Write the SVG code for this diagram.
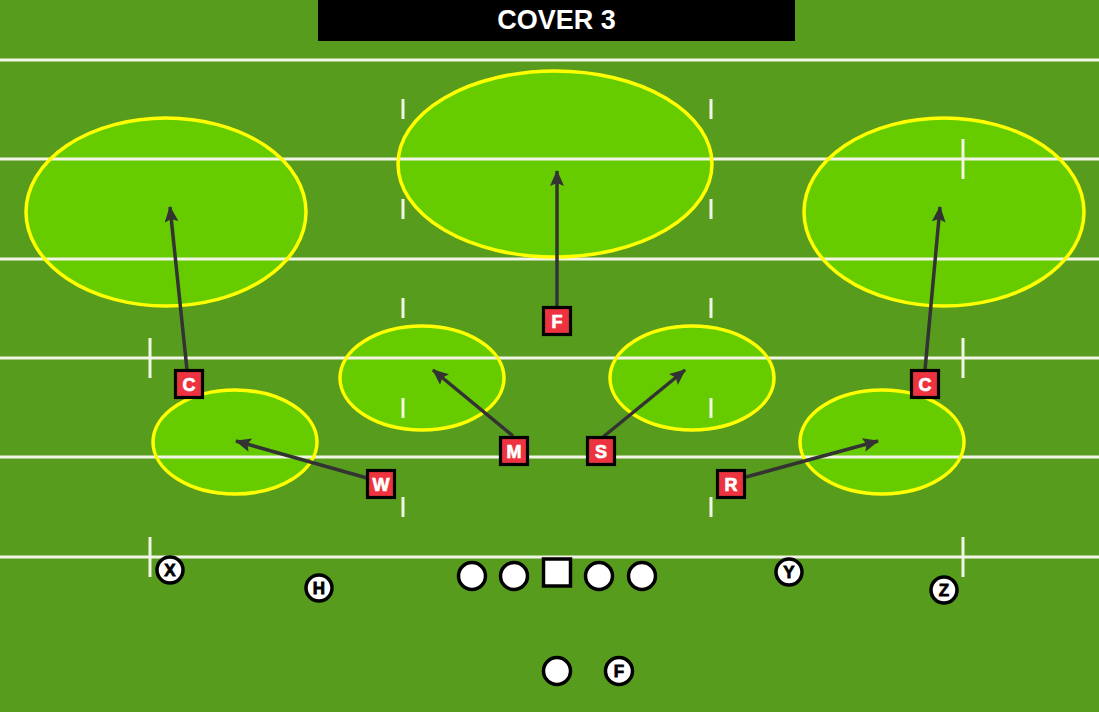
<svg xmlns="http://www.w3.org/2000/svg" width="1099" height="712" viewBox="0 0 1099 712">
<defs>
<style>
.yl{stroke:#F2F4E6;stroke-width:3;fill:none}
.hm{stroke:#F2F4E6;stroke-width:3;fill:none}
.zf{fill:#66CC00;stroke:none}
.zs{fill:none;stroke:#FFFF00;stroke-width:3.5}
.con{stroke:#333333;stroke-width:3.5;fill:none;marker-end:url(#ah)}
.def rect{fill:#EE3340;stroke:#000;stroke-width:3.2}
.def text{fill:#fff;stroke:#fff;stroke-width:0.7;font-family:"Liberation Sans",Arial,sans-serif;font-weight:bold;font-size:18px;text-anchor:middle}
.off circle,.off rect{fill:#fff;stroke:#000;stroke-width:3.5}
.off text{fill:#000;stroke:#000;stroke-width:0.8;font-family:"Liberation Sans",Arial,sans-serif;font-weight:bold;font-size:17px;text-anchor:middle}
</style>
<marker id="ah" markerUnits="userSpaceOnUse" markerWidth="16" markerHeight="14" viewBox="0 0 16 14" refX="15" refY="7" orient="auto">
<path d="M0,0 L16,7 L0,14 L3,7 z" fill="#333333"/>
</marker>
</defs>
<rect x="0" y="0" width="1099" height="712" fill="#589C1E"/>
<g id="zones-fill">
<ellipse class="zf" cx="166" cy="212" rx="140" ry="94"/>
<ellipse class="zf" cx="555" cy="164" rx="157" ry="93"/>
<ellipse class="zf" cx="944" cy="212" rx="140" ry="94"/>
<ellipse class="zf" cx="422" cy="378" rx="82" ry="52"/>
<ellipse class="zf" cx="692" cy="378" rx="82" ry="52"/>
<ellipse class="zf" cx="235" cy="442" rx="82" ry="52"/>
<ellipse class="zf" cx="882" cy="442" rx="82" ry="52"/>
</g>
<g id="field">
<line class="yl" x1="0" y1="60" x2="1099" y2="60"/>
<line class="yl" x1="0" y1="159" x2="1099" y2="159"/>
<line class="yl" x1="0" y1="259" x2="1099" y2="259"/>
<line class="yl" x1="0" y1="358" x2="1099" y2="358"/>
<line class="yl" x1="0" y1="457" x2="1099" y2="457"/>
<line class="yl" x1="0" y1="557" x2="1099" y2="557"/>
<line class="hm" x1="150" y1="338" x2="150" y2="378"/>
<line class="hm" x1="150" y1="537" x2="150" y2="577"/>
<line class="hm" x1="963" y1="139" x2="963" y2="179"/>
<line class="hm" x1="963" y1="338" x2="963" y2="378"/>
<line class="hm" x1="963" y1="537" x2="963" y2="577"/>
<line class="hm" x1="403" y1="99" x2="403" y2="119"/>
<line class="hm" x1="403" y1="199" x2="403" y2="219"/>
<line class="hm" x1="403" y1="298" x2="403" y2="318"/>
<line class="hm" x1="403" y1="398" x2="403" y2="418"/>
<line class="hm" x1="403" y1="497" x2="403" y2="517"/>
<line class="hm" x1="711" y1="99" x2="711" y2="119"/>
<line class="hm" x1="711" y1="199" x2="711" y2="219"/>
<line class="hm" x1="711" y1="298" x2="711" y2="318"/>
<line class="hm" x1="711" y1="398" x2="711" y2="418"/>
<line class="hm" x1="711" y1="497" x2="711" y2="517"/>
</g>
<g id="zones">
<ellipse class="zs" cx="166" cy="212" rx="140" ry="94"/>
<ellipse class="zs" cx="555" cy="164" rx="157" ry="93"/>
<ellipse class="zs" cx="944" cy="212" rx="140" ry="94"/>
<ellipse class="zs" cx="422" cy="378" rx="82" ry="52"/>
<ellipse class="zs" cx="692" cy="378" rx="82" ry="52"/>
<ellipse class="zs" cx="235" cy="442" rx="82" ry="52"/>
<ellipse class="zs" cx="882" cy="442" rx="82" ry="52"/>
</g>
<g id="title">
<rect x="318" y="0" width="477" height="41" fill="#000"/>
<text x="556.5" y="28.5" fill="#fff" font-family="'Liberation Sans',Arial,sans-serif" font-weight="bold" font-size="27" text-anchor="middle">COVER 3</text>
</g>
<g id="connectors">
<line class="con" x1="557" y1="307" x2="557" y2="171"/>
<line class="con" x1="187" y1="370" x2="170" y2="207"/>
<line class="con" x1="925" y1="370" x2="940" y2="207"/>
<line class="con" x1="367" y1="478" x2="236" y2="441"/>
<line class="con" x1="513" y1="436" x2="433" y2="370"/>
<line class="con" x1="603" y1="437" x2="685" y2="370"/>
<line class="con" x1="746" y1="477" x2="878" y2="441"/>
</g>
<g id="def-F" class="def"><rect x="543.5" y="307.5" width="27" height="27"/><text x="557" y="327.5">F</text></g>
<g id="def-CL" class="def"><rect x="175.5" y="370.5" width="27" height="27"/><text x="189" y="390.5">C</text></g>
<g id="def-CR" class="def"><rect x="911.5" y="370.5" width="27" height="27"/><text x="925" y="390.5">C</text></g>
<g id="def-W" class="def"><rect x="367.5" y="470.5" width="27" height="27"/><text x="381" y="490.5">W</text></g>
<g id="def-M" class="def"><rect x="500.5" y="437.5" width="27" height="27"/><text x="514" y="457.5">M</text></g>
<g id="def-S" class="def"><rect x="587.5" y="437.5" width="27" height="27"/><text x="601" y="457.5">S</text></g>
<g id="def-R" class="def"><rect x="717.5" y="470.5" width="27" height="27"/><text x="731" y="490.5">R</text></g>
<g id="off-X" class="off"><circle cx="170" cy="570" r="13"/><text x="170" y="576">X</text></g>
<g id="off-H" class="off"><circle cx="319" cy="588" r="13"/><text x="319" y="594">H</text></g>
<g id="off-Y" class="off"><circle cx="789" cy="572" r="13"/><text x="789" y="578">Y</text></g>
<g id="off-Z" class="off"><circle cx="944" cy="590" r="13"/><text x="944" y="596">Z</text></g>
<g id="off-LT" class="off"><circle cx="472" cy="576" r="13.5"/></g>
<g id="off-LG" class="off"><circle cx="514" cy="576" r="13.5"/></g>
<g id="off-C" class="off"><rect x="543.5" y="559" width="27" height="27"/></g>
<g id="off-RG" class="off"><circle cx="599" cy="576" r="13.5"/></g>
<g id="off-RT" class="off"><circle cx="642" cy="576" r="13.5"/></g>
<g id="off-QB" class="off"><circle cx="557" cy="671" r="13.5"/></g>
<g id="off-F" class="off"><circle cx="619" cy="671" r="13.5"/><text x="619" y="677">F</text></g>
</svg>
